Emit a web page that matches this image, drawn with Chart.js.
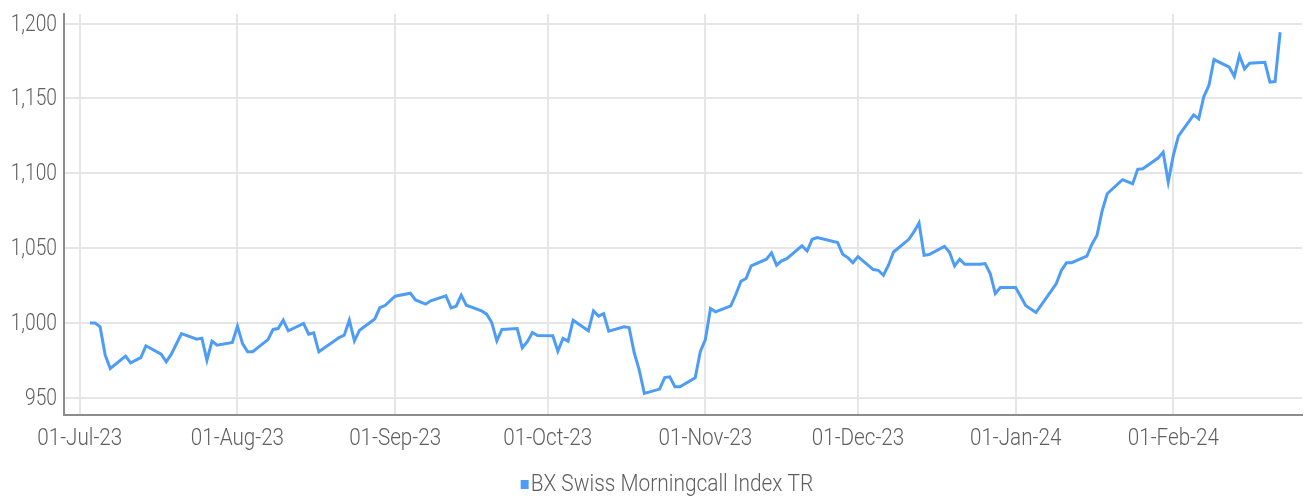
<!DOCTYPE html>
<html><head><meta charset="utf-8">
<script src="https://cdn.jsdelivr.net/npm/chart.js@4.4.1/dist/chart.umd.min.js"></script>
<style>html,body{margin:0;padding:0;background:#fff}#wrap{width:1304px;height:498px;position:relative}</style>
</head><body><div id="wrap"><canvas id="c"></canvas></div>
<script>
const seriesName = 'BX Swiss Morningcall Index TR';
const dates = [
'2023-07-03','2023-07-04','2023-07-05','2023-07-06','2023-07-07','2023-07-10','2023-07-11','2023-07-13','2023-07-14','2023-07-17',
'2023-07-18','2023-07-19','2023-07-21','2023-07-24','2023-07-25','2023-07-26','2023-07-27','2023-07-28','2023-07-31','2023-08-01',
'2023-08-02','2023-08-03','2023-08-04','2023-08-07','2023-08-08','2023-08-09','2023-08-10','2023-08-11','2023-08-14','2023-08-15',
'2023-08-16','2023-08-17','2023-08-21','2023-08-22','2023-08-23','2023-08-24','2023-08-25','2023-08-28','2023-08-29','2023-08-30',
'2023-09-01','2023-09-04','2023-09-05','2023-09-07','2023-09-08','2023-09-11','2023-09-12','2023-09-13','2023-09-14','2023-09-15',
'2023-09-18','2023-09-19','2023-09-20','2023-09-21','2023-09-22','2023-09-25','2023-09-26','2023-09-27','2023-09-28','2023-09-29',
'2023-10-02','2023-10-03','2023-10-04','2023-10-05','2023-10-06','2023-10-09','2023-10-10','2023-10-11','2023-10-12','2023-10-13',
'2023-10-16','2023-10-17','2023-10-18','2023-10-19','2023-10-20','2023-10-23','2023-10-24','2023-10-25','2023-10-26','2023-10-27',
'2023-10-30','2023-10-31','2023-11-01','2023-11-02','2023-11-03','2023-11-06','2023-11-07','2023-11-08','2023-11-09','2023-11-10',
'2023-11-13','2023-11-14','2023-11-15','2023-11-16','2023-11-17','2023-11-20','2023-11-21','2023-11-22','2023-11-23','2023-11-27',
'2023-11-28','2023-11-29','2023-11-30','2023-12-01','2023-12-04','2023-12-05','2023-12-06','2023-12-07','2023-12-08','2023-12-11',
'2023-12-12','2023-12-13','2023-12-14','2023-12-15','2023-12-18','2023-12-19','2023-12-20','2023-12-21','2023-12-22','2023-12-25',
'2023-12-26','2023-12-27','2023-12-28','2023-12-29','2024-01-01','2024-01-03','2024-01-05','2024-01-08','2024-01-09','2024-01-10',
'2024-01-11','2024-01-12','2024-01-15','2024-01-16','2024-01-17','2024-01-18','2024-01-19','2024-01-22','2024-01-24','2024-01-25',
'2024-01-26','2024-01-29','2024-01-30','2024-01-31','2024-02-01','2024-02-02','2024-02-05','2024-02-06','2024-02-07','2024-02-08',
'2024-02-09','2024-02-12','2024-02-13','2024-02-14','2024-02-15','2024-02-16','2024-02-19','2024-02-20','2024-02-21','2024-02-22'
];
const values = [
1000.2,1000.2,997.5,978.7,969.8,978.0,973.5,977.0,984.9,979.3,
974.2,979.3,993.1,989.3,990.0,975.3,988.0,985.3,987.1,998.0,
986.4,980.9,980.9,989.0,995.8,996.4,1002.0,994.9,999.8,992.7,
993.6,980.9,990.4,992.0,1002.0,988.2,995.3,1002.8,1010.3,1011.8,
1018.0,1020.0,1015.5,1012.7,1014.9,1018.2,1010.2,1011.3,1018.7,1012.0,
1008.2,1006.0,1000.4,988.2,995.8,996.4,983.6,987.6,993.8,991.8,
991.6,981.3,989.8,988.0,1002.0,994.9,1008.2,1004.7,1006.4,994.7,
997.6,997.1,980.4,968.7,953.1,956.0,963.7,964.2,957.6,957.6,
963.6,980.9,989.1,1009.8,1007.6,1011.6,1019.3,1028.0,1029.8,1038.2,
1042.7,1046.9,1038.7,1041.6,1043.1,1051.6,1048.2,1056.0,1057.1,1053.8,
1046.0,1043.8,1040.4,1044.5,1035.8,1035.3,1032.0,1038.7,1047.5,1056.0,
1060.9,1066.9,1045.3,1045.8,1051.3,1047.3,1038.2,1042.7,1039.3,1039.3,
1039.8,1033.1,1019.8,1023.8,1023.8,1011.6,1007.1,1021.5,1026.4,1035.3,
1040.4,1040.4,1044.7,1052.7,1058.7,1074.9,1086.4,1095.8,1093.1,1102.7,
1103.1,1110.2,1114.2,1094.2,1112.0,1124.8,1139.1,1136.4,1151.3,1158.7,
1176.0,1170.9,1164.7,1178.7,1169.8,1173.6,1174.2,1160.9,1161.3,1194.2
];
const monthTicks = ['2023-07-01','2023-08-01','2023-09-01','2023-10-01','2023-11-01','2023-12-01','2024-01-01','2024-02-01'];
const yTicks = [950,1000,1050,1100,1150,1200];
const monthNames = ['Jan','Feb','Mar','Apr','May','Jun','Jul','Aug','Sep','Oct','Nov','Dec'];

const ORIGIN = Date.UTC(2023,6,1);
function dayOf(s){const p=s.split('-').map(Number);return (Date.UTC(p[0],p[1]-1,p[2])-ORIGIN)/86400000;}
function labelOf(day){const d=new Date(ORIGIN+day*86400000);return String(d.getUTCDate()).padStart(2,'0')+'-'+monthNames[d.getUTCMonth()]+'-'+String(d.getUTCFullYear()).slice(2);}

const points = dates.map((d,i)=>({x:dayOf(d),y:values[i]}));
const tickDays = monthTicks.map(dayOf);
const BLUE = '#4d9cf6';
const TXT = '#5f5f5f';
const FONT = "300 24px Roboto, 'Liberation Sans', sans-serif";

// draws the axis tick labels and the legend in a condensed style (horizontally scaled text)
const condensedText = {
  id:'condensedText',
  afterDraw(chart){
    const ctx=chart.ctx, ca=chart.chartArea, xs=chart.scales.x, ys=chart.scales.y;
    ctx.save();
    ctx.fillStyle=TXT; ctx.font=FONT; ctx.textBaseline='middle';
    const put=(text,x,y,align,sx)=>{ctx.save();ctx.translate(x,y);ctx.scale(sx,1);ctx.textAlign=align;ctx.fillText(text,0,0);ctx.restore();};
    ys.ticks.forEach(t=>put(t.value.toLocaleString('en-US'), ca.left-7, ys.getPixelForValue(t.value)+1,'right',0.8));
    xs.ticks.forEach(t=>put(labelOf(t.value), xs.getPixelForValue(t.value), ca.bottom+24,'center',0.86));
    // legend
    const ds=chart.data.datasets[0];
    const sx=0.87, tw=ctx.measureText(ds.label).width*sx, box=8, gap=2;
    const total=box+gap+tw, left=chart.width/2+15-total/2, ly=chart.height-13;
    ctx.fillStyle=ds.borderColor; ctx.fillRect(left, ly-5, box, box+1);
    ctx.fillStyle=TXT; put(ds.label,left+box+gap,ly,'left',sx);
    ctx.restore();
  }
};

new Chart(document.getElementById('c'),{
  type:'line',
  data:{datasets:[{label:seriesName,data:points,borderColor:BLUE,backgroundColor:BLUE,borderWidth:3,pointRadius:0,tension:0,fill:false}]},
  options:{
    responsive:true,maintainAspectRatio:false,animation:false,devicePixelRatio:1,
    layout:{padding:{left:0,right:2,top:14,bottom:0}},
    plugins:{tooltip:{enabled:false},legend:{display:false}},
    scales:{
      x:{type:'linear',min:-3.1,max:240.3,
        afterBuildTicks:(s)=>{s.ticks=tickDays.map(v=>({value:v}));},
        afterFit:(s)=>{s.height=83;},
        ticks:{display:false},
        grid:{color:'#e6e6e6',lineWidth:2,drawTicks:false},
        border:{color:'#8c8c8c',width:2}
      },
      y:{type:'linear',min:938.7,max:1206.4,
        afterBuildTicks:(s)=>{s.ticks=yTicks.map(v=>({value:v}));},
        afterFit:(s)=>{s.width=64;},
        ticks:{display:false},
        grid:{color:'#e6e6e6',lineWidth:2,drawTicks:false},
        border:{color:'#8c8c8c',width:2}
      }
    }
  },
  plugins:[condensedText]
});
</script></body></html>
